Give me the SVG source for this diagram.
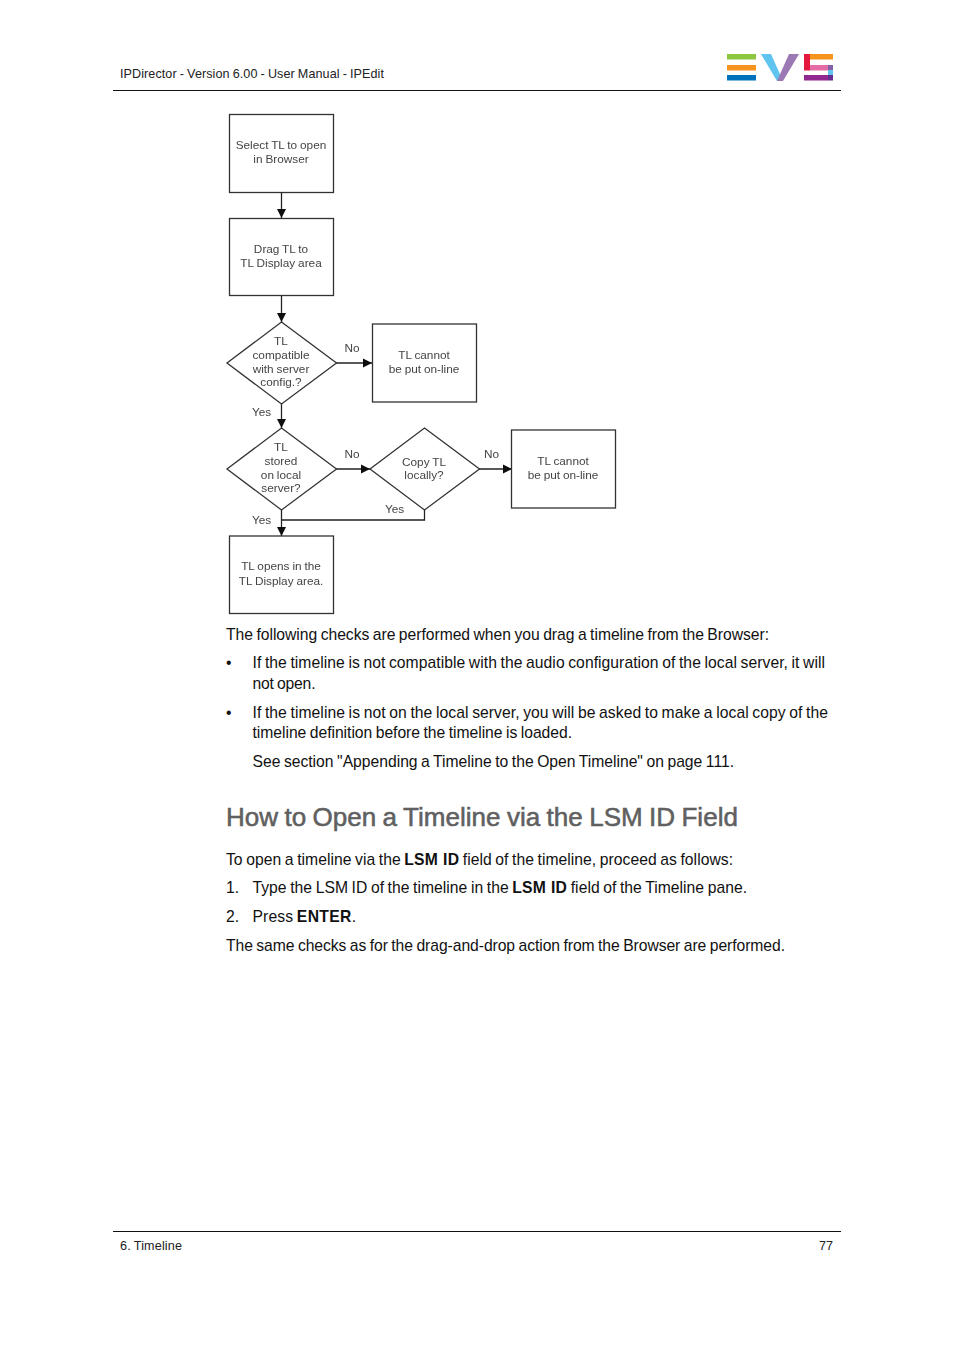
<svg xmlns="http://www.w3.org/2000/svg" width="954" height="1350" viewBox="0 0 954 1350">
<style>
text{font-family:"Liberation Sans",Arial,sans-serif;fill:#000}
.hd{font-size:12.6px;fill:#222;word-spacing:-.5px}
.b{font-size:15.7px;fill:#111;word-spacing:-.8px}
.bold{font-weight:bold;letter-spacing:.2px;word-spacing:.4px}
.h{font-size:26px;fill:#606060;stroke:#606060;stroke-width:.55px;word-spacing:-1px}
.f{font-size:11.8px;fill:#444;text-anchor:middle;word-spacing:-.4px}
.n{fill:#fff;stroke:#333;stroke-width:1.3}
.c{fill:none;stroke:#222;stroke-width:1.3}
.r{stroke:#111;stroke-width:1}
</style>
<defs>
<marker id="a" markerWidth="10" markerHeight="10" refX="9" refY="5" orient="auto" markerUnits="userSpaceOnUse"><path d="M0 .5L9 5L0 9.500Z" fill="#111"/></marker>
<filter id="soft" x="200" y="100" width="430" height="525" filterUnits="userSpaceOnUse"><feGaussianBlur stdDeviation="0.35"/></filter>
</defs>
<rect width="954" height="1350" fill="#fff"/>
<g id="header">
<text class="hd" x="120" y="78" textLength="264">IPDirector - Version 6.00 - User Manual - IPEdit</text>
<line class="r" x1="113" y1="90.500" x2="841" y2="90.500"/>
</g>
<g id="logo">
<rect x="727" y="54" width="29" height="5.500" fill="#8dc63f"/>
<rect x="727" y="65" width="29" height="5.500" fill="#f7941d"/>
<rect x="727" y="75" width="29" height="5.500" fill="#0072bc"/>
<polygon points="761,54 771,54 783,81 777,81" fill="#5fc4ee"/>
<polygon points="789,54 799,54 783,81 777,81" fill="#9b79b5"/>
<rect x="804" y="54" width="29" height="5.500" fill="#f7941d"/>
<rect x="804" y="54" width="6" height="16.500" fill="#e4173e"/>
<rect x="810" y="65" width="18" height="5.500" fill="#e56da5"/>
<rect x="828" y="65" width="5" height="5.500" fill="#8560a8"/>
<rect x="828" y="70" width="5" height="5" fill="#5fc4ee"/>
<rect x="804" y="75" width="24" height="5.500" fill="#92278f"/>
<rect x="828" y="75" width="5" height="5.500" fill="#662d91"/>
</g>
<g id="flowchart" filter="url(#soft)">
<g id="connectors">
<path class="c" marker-end="url(#a)" d="M281.500 193V218"/>
<path class="c" marker-end="url(#a)" d="M281.500 296V322"/>
<path class="c" marker-end="url(#a)" d="M336 363H372"/>
<path class="c" marker-end="url(#a)" d="M281.500 404V428"/>
<path class="c" marker-end="url(#a)" d="M336 469H370"/>
<path class="c" marker-end="url(#a)" d="M479 469H512"/>
<path class="c" marker-end="url(#a)" d="M281.500 510V536"/>
<path class="c" d="M424.500 510V520H281.500"/>
</g>
<g id="n1"><rect class="n" x="229.500" y="114.500" width="104" height="78"/><text class="f" x="281" y="149">Select TL to open</text><text class="f" x="281" y="163">in Browser</text></g>
<g id="n2"><rect class="n" x="229.500" y="218.500" width="104" height="77"/><text class="f" x="281" y="253">Drag TL to</text><text class="f" x="281" y="267">TL Display area</text></g>
<g id="d1"><polygon class="n" points="281.500,322 336.500,363 281.500,404 227,363"/><text class="f" x="281" y="345">TL</text><text class="f" x="281" y="359">compatible</text><text class="f" x="281" y="373">with server</text><text class="f" x="281" y="386">config.?</text></g>
<g id="n3"><rect class="n" x="372.500" y="324" width="104" height="78"/><text class="f" x="424" y="359">TL cannot</text><text class="f" x="424" y="372.500">be put on-line</text></g>
<g id="d2"><polygon class="n" points="281.500,428 336.500,469 281.500,510 227,469"/><text class="f" x="281" y="451">TL</text><text class="f" x="281" y="465">stored</text><text class="f" x="281" y="479">on local</text><text class="f" x="281" y="492">server?</text></g>
<g id="d3"><polygon class="n" points="424.500,428 479.500,469 424.500,510 370,469"/><text class="f" x="424" y="466">Copy TL</text><text class="f" x="424" y="479">locally?</text></g>
<g id="n4"><rect class="n" x="511.500" y="430" width="104" height="78"/><text class="f" x="563" y="465">TL cannot</text><text class="f" x="563" y="478.500">be put on-line</text></g>
<g id="n5"><rect class="n" x="229.500" y="536" width="104" height="77.500"/><text class="f" x="281" y="570">TL opens in the</text><text class="f" x="281" y="584.500">TL Display area.</text></g>
<g id="connector-labels">
<text class="f" x="352" y="352">No</text><text class="f" x="261.500" y="416">Yes</text>
<text class="f" x="352" y="458">No</text><text class="f" x="491.500" y="458">No</text>
<text class="f" x="394.500" y="513">Yes</text><text class="f" x="261.500" y="524">Yes</text>
</g>
</g>
<g id="body">
<text class="b" x="226" y="640" textLength="543">The following checks are performed when you drag a timeline from the Browser:</text>
<text class="b" x="226" y="668">•</text>
<text class="b" x="252.500" y="668" textLength="572.500">If the timeline is not compatible with the audio configuration of the local server, it will</text>
<text class="b" x="252.500" y="689" textLength="63">not open.</text>
<text class="b" x="226" y="718">•</text>
<text class="b" x="252.500" y="718" textLength="575.500">If the timeline is not on the local server, you will be asked to make a local copy of the</text>
<text class="b" x="252.500" y="738" textLength="319.500">timeline definition before the timeline is loaded.</text>
<text class="b" x="252.500" y="767" textLength="481.500">See section "Appending a Timeline to the Open Timeline" on page 111.</text>
<text class="h" x="226" y="825.500" textLength="512">How to Open a Timeline via the LSM ID Field</text>
<text class="b" x="226" y="865" textLength="507">To open a timeline via the <tspan class="bold">LSM ID</tspan> field of the timeline, proceed as follows:</text>
<text class="b" x="226" y="893">1.</text>
<text class="b" x="252.500" y="893" textLength="494.500">Type the LSM ID of the timeline in the <tspan class="bold">LSM ID</tspan> field of the Timeline pane.</text>
<text class="b" x="226" y="922">2.</text>
<text class="b" x="252.500" y="922" textLength="103.500">Press <tspan class="bold">ENTER</tspan>.</text>
<text class="b" x="226" y="951" textLength="559">The same checks as for the drag-and-drop action from the Browser are performed.</text>
</g>
<g id="footer">
<line class="r" x1="113" y1="1231.500" x2="841" y2="1231.500"/>
<text class="hd" x="120" y="1250" textLength="62">6. Timeline</text>
<text class="hd" x="833" y="1250" text-anchor="end">77</text>
</g>
</svg>
